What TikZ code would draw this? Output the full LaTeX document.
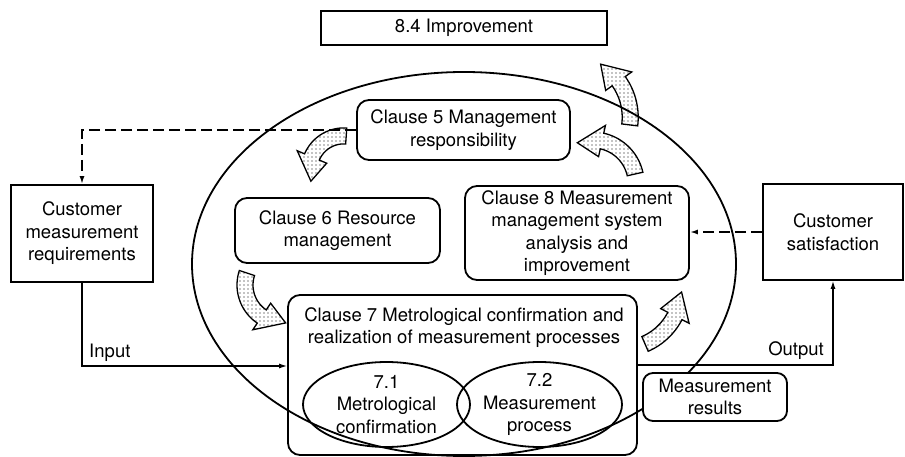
\documentclass[tikz,border=0pt]{standalone}
\usepackage{fontspec}
\setmainfont{TeX Gyre Heros}
\usetikzlibrary{shapes.geometric,patterns,arrows.meta}
\pgfdeclarepatternformonly{sparsedots}{\pgfqpoint{-1pt}{-1pt}}{\pgfqpoint{1pt}{1pt}}{\pgfqpoint{4pt}{4pt}}{\pgfpathcircle{\pgfqpoint{0pt}{0pt}}{0.6pt}\pgfusepath{fill}}
\def\aw{8}
\def\ah{16}
\newcommand\fatarc[6]{%
 \draw[fatarrow] plot[domain=#4:#5,samples=24] ({#1+(#3+\aw)*cos(\x)},{#2+(#3+\aw)*sin(\x)})
 -- ({#1+(#3+\ah)*cos(#5)},{#2+(#3+\ah)*sin(#5)})
 -- ({#1+#3*cos(#6)},{#2+#3*sin(#6)})
 -- ({#1+(#3-\ah)*cos(#5)},{#2+(#3-\ah)*sin(#5)})
 -- plot[domain=#5:#4,samples=24] ({#1+(#3-\aw)*cos(\x)},{#2+(#3-\aw)*sin(\x)})
 -- cycle;}
\begin{document}
\begin{tikzpicture}[x=1pt,y=-1pt,
  every node/.style={font=\fontsize{18.5pt}{22.5pt}\selectfont},
  plainbox/.style={draw,line width=1.8pt,align=center,inner sep=0pt},
  roundbox/.style={plainbox,rounded corners=12pt},
  oval/.style={draw,ellipse,line width=1.8pt,inner sep=0pt},
  txt/.style={align=center,inner sep=0pt},
  fatarrow/.style={draw,line width=1.3pt,pattern=sparsedots,line join=miter},
  conn/.style={line width=1.2pt,-{Latex[length=8pt,width=5pt]}},
  dashline/.style={line width=1.8pt,dash pattern=on 11pt off 5pt,-{Latex[length=8pt,width=5pt]}}]
\useasboundingbox (0,0) rectangle (905,457);
% big ellipse
\node[oval,minimum width=544pt,minimum height=384pt] (big) at (464,264) {};
% boxes
\node[plainbox,minimum width=286pt,minimum height=34pt] (improve) at (464,28) {8.4 Improvement};
\node[roundbox,fill=white,minimum width=213pt,minimum height=60pt] (c5) at (463.5,130) {Clause 5 Management\\responsibility};
\node[roundbox,fill=white,minimum width=205pt,minimum height=65pt] (c6) at (337.5,230.5) {Clause 6 Resource\\management};
\node[roundbox,fill=white,minimum width=224pt,minimum height=94pt] (c8) at (577,233) {Clause 8 Measurement\\management system\\analysis and\\improvement};
\node[roundbox,minimum width=349pt,minimum height=160pt] (c7) at (462.5,375) {};
\node[txt] (c7t) at (464,327.5) {Clause 7 Metrological confirmation and\\realization of measurement processes};
\node[oval,minimum width=167pt,minimum height=85pt] (e71) at (386.5,404.5) {};
\node[oval,minimum width=165pt,minimum height=85pt] (e72) at (539.5,404.5) {};
\node[txt] (e71t) at (e71.center) {7.1\\Metrological\\confirmation};
\node[txt] (e72t) at (e72.center) {7.2\\Measurement\\process};
\node[roundbox,fill=white,rounded corners=10pt,minimum width=144pt,minimum height=48pt] (res) at (715,397) {Measurement\\results};
\node[plainbox,minimum width=142pt,minimum height=97pt] (cust) at (82,233.5) {Customer\\measurement\\requirements};
\node[plainbox,minimum width=140pt,minimum height=96pt] (sat) at (833,232) {Customer\\satisfaction};
% fat curved arrows
\fatarc{343.8}{170.5}{34.6}{274}{203}{162}
\fatarc{283}{285}{38}{198.4}{124}{86}
\fatarc{620.7}{288}{61}{66.5}{27.3}{3.8}
\fatarc{592.6}{183.5}{43.5}{-12.6}{-77.5}{-110.5}
\fatarc{567.7}{117.3}{62.5}{7}{-35.3}{-58.2}
% connectors
\draw[dashline] (c5.west) -| (cust.north);
\draw[dashline] (sat.west) -- (c8.east |- sat.west);
\draw[conn] (cust.south) |- ([yshift=9pt]c7.west);
\draw[conn] ([yshift=10pt]c7.east) -| (sat.south);
\node[txt,anchor=west] (inlbl) at (89,353) {Input};
\node[txt,anchor=east] (outlbl) at (824,351) {Output};
\end{tikzpicture}
\end{document}
